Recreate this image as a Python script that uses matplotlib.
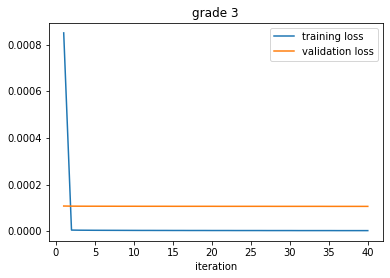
import matplotlib
matplotlib.use("Agg")
import matplotlib.pyplot as plt

iterations = list(range(1, 41))
training_loss = [8.5e-4, 5.5e-6, 5.0e-6, 4.8e-6, 4.6e-6, 4.5e-6, 4.4e-6, 4.3e-6, 4.2e-6, 4.1e-6,
                 4.0e-6, 4.0e-6, 3.9e-6, 3.9e-6, 3.8e-6, 3.8e-6, 3.7e-6, 3.7e-6, 3.7e-6, 3.6e-6,
                 3.6e-6, 3.6e-6, 3.5e-6, 3.5e-6, 3.5e-6, 3.5e-6, 3.4e-6, 3.4e-6, 3.4e-6, 3.4e-6,
                 3.3e-6, 3.3e-6, 3.3e-6, 3.3e-6, 3.3e-6, 3.2e-6, 3.2e-6, 3.2e-6, 3.2e-6, 3.2e-6]
validation_loss = [1.085e-4, 1.080e-4, 1.078e-4, 1.077e-4, 1.077e-4, 1.076e-4, 1.076e-4, 1.075e-4, 1.075e-4, 1.075e-4,
                   1.074e-4, 1.074e-4, 1.074e-4, 1.074e-4, 1.073e-4, 1.073e-4, 1.073e-4, 1.073e-4, 1.073e-4, 1.073e-4,
                   1.072e-4, 1.072e-4, 1.072e-4, 1.072e-4, 1.072e-4, 1.072e-4, 1.072e-4, 1.071e-4, 1.071e-4, 1.071e-4,
                   1.071e-4, 1.071e-4, 1.071e-4, 1.071e-4, 1.070e-4, 1.070e-4, 1.070e-4, 1.070e-4, 1.070e-4, 1.070e-4]

fig = plt.figure(figsize=(390 / 72, 278 / 72), dpi=72)
# axes box placed to match the reference layout (pixels)
ax = fig.add_axes([48.5 / 390, 37.5 / 278, 334.5 / 390, 217.5 / 278])

ax.plot(iterations, training_loss, label="training loss")
ax.plot(iterations, validation_loss, label="validation loss")

ax.set_title("grade 3")
ax.set_xlabel("iteration")
ax.set_xticks(range(0, 41, 5))
ax.legend()

fig.savefig("out.png", dpi=72)
